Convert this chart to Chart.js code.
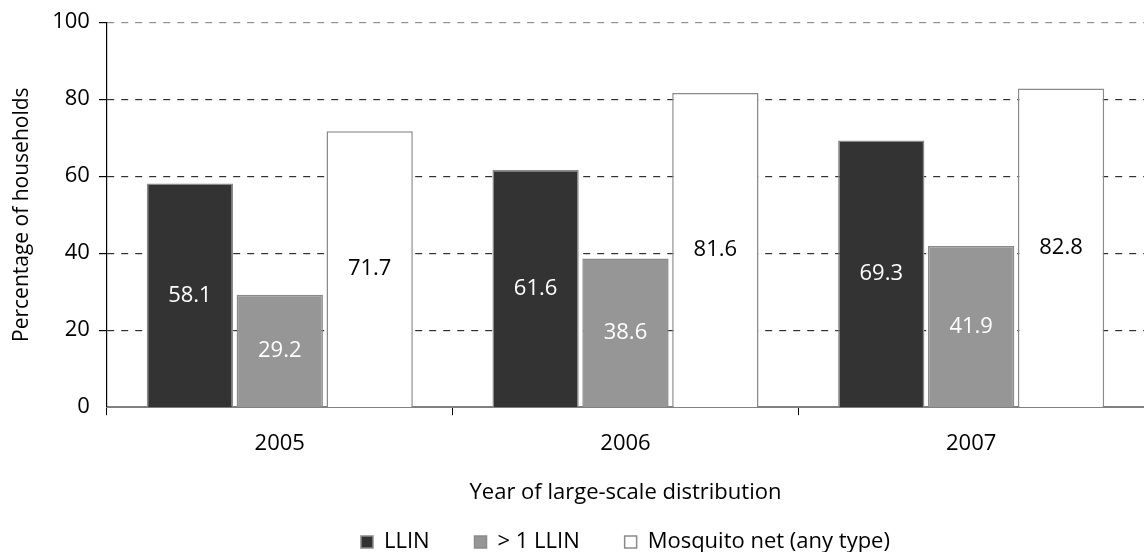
<!DOCTYPE html>
<html>
<head>
<meta charset="utf-8">
<script src="https://cdn.jsdelivr.net/npm/chart.js@4/dist/chart.umd.min.js"></script>
<style>
  html, body { margin: 0; padding: 0; background: #fff; }
  #wrap { width: 1144px; height: 552px; }
</style>
</head>
<body>
<div id="wrap"><canvas id="netChart"></canvas></div>
<script>
// Household net ownership by year of distribution
const years = ['2005', '2006', '2007'];
const llin = [58.1, 61.6, 69.3];
const moreThanOneLlin = [29.2, 38.6, 41.9];
const anyNet = [71.7, 81.6, 82.8];
const yTicks = [0, 20, 40, 60, 80, 100];

const FONT = '"Open Sans", "Noto Sans", sans-serif';
const SIZE = 22;

// Writes each bar's value in its middle
const valueLabels = {
    id: 'valueLabels',
    afterDatasetsDraw(chart) {
        const ctx = chart.ctx;
        ctx.save();
        ctx.font = SIZE + 'px ' + FONT;
        ctx.textAlign = 'center';
        ctx.textBaseline = 'middle';
        chart.data.datasets.forEach((ds, i) => {
            chart.getDatasetMeta(i).data.forEach((bar, j) => {
                ctx.fillStyle = ds.labelColor;
                ctx.fillText(ds.data[j].toFixed(1), bar.x, (bar.y + bar.base) / 2);
            });
        });
        ctx.restore();
    }
};

// Centres the legend under the plot area instead of the whole canvas
const legendUnderPlot = {
    id: 'legendUnderPlot',
    afterLayout(chart) {
        const lg = chart.legend;
        const shift = (chart.chartArea.left + chart.chartArea.right) / 2 - (lg.left + lg.right) / 2;
        lg.left += shift;
        lg.right += shift;
    }
};

new Chart(document.getElementById('netChart'), {
    type: 'bar',
    data: {
        labels: years,
        datasets: [
            { label: 'LLIN', data: llin, backgroundColor: '#333333', borderColor: '#8a8a8a', borderWidth: 1.5, labelColor: '#ffffff' },
            { label: '> 1 LLIN', data: moreThanOneLlin, backgroundColor: '#969696', borderColor: '#8a8a8a', borderWidth: 1.5, labelColor: '#ffffff' },
            { label: 'Mosquito net (any type)', data: anyNet, backgroundColor: '#ffffff', borderColor: '#8a8a8a', borderWidth: 1.5, labelColor: '#000000' }
        ]
    },
    options: {
        responsive: true,
        maintainAspectRatio: false,
        animation: false,
        datasets: { bar: { categoryPercentage: 0.78, barPercentage: 0.96 } },
        layout: { padding: { top: 22, right: 0, left: 9, bottom: -11 } },
        plugins: {
            tooltip: { enabled: false },
            legend: {
                position: 'bottom',
                labels: {
                    color: '#000',
                    font: { family: FONT, size: SIZE },
                    boxWidth: 12,
                    boxHeight: 12,
                    padding: 22,
                    // wider gap after every entry but the last
                    generateLabels(chart) {
                        const items = Chart.defaults.plugins.legend.labels.generateLabels(chart);
                        items.forEach((it, i) => {
                            if (i < items.length - 1) it.text += '    ';
                        });
                        return items;
                    }
                }
            }
        },
        scales: {
            x: {
                grid: { display: true, drawOnChartArea: false, drawTicks: true, tickLength: 8, color: '#000', offset: true },
                border: { color: '#808080', width: 2 },
                ticks: { color: '#000', font: { family: FONT, size: SIZE }, padding: 15 },
                title: { display: true, text: 'Year of large-scale distribution', color: '#000', font: { family: FONT, size: SIZE }, padding: { top: 8, bottom: 3 } }
            },
            y: {
                min: 0,
                max: 100,
                afterBuildTicks(axis) { axis.ticks = yTicks.map(v => ({ value: v })); },
                grid: {
                    color: ctx => ctx.tick && ctx.tick.value === 100 ? '#909090' : '#303030',
                    lineWidth: ctx => ctx.tick && ctx.tick.value === 0 ? 0 : 1.2,
                    tickLength: 8,
                    tickColor: '#000'
                },
                border: { display: true, color: '#000', width: 1.2, dash: [7, 7] },
                ticks: { color: '#000', font: { family: FONT, size: SIZE }, padding: 9 },
                title: { display: true, text: 'Percentage of households', color: '#000', font: { family: FONT, size: 21 }, padding: { top: 0, bottom: 9 } }
            }
        }
    },
    plugins: [valueLabels, legendUnderPlot]
});
</script>
</body>
</html>
